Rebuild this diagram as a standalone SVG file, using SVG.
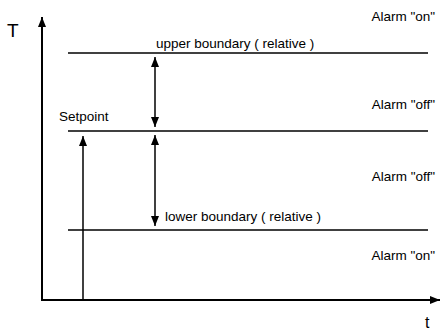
<svg xmlns="http://www.w3.org/2000/svg" width="440" height="332" viewBox="0 0 440 332">
  <style>
    .ln { stroke: #000; stroke-width: 1.5; fill: none; }
    .ax { stroke: #000; stroke-width: 2; fill: none; }
    text { font-family: "Liberation Sans", Arial, sans-serif; font-size: 13.5px; fill: #000; }
    .big { font-size: 19px; }
    .end { text-anchor: end; }
  </style>
  <defs>
    <marker id="ah" viewBox="0 0 10 10" refX="10" refY="5" markerWidth="10" markerHeight="10" markerUnits="userSpaceOnUse" orient="auto-start-reverse">
      <path d="M0,1 L10,5 L0,9 Z" fill="#000"/>
    </marker>
  </defs>

  <!-- axes -->
  <g id="axes">
    <line class="ax" x1="42" y1="300" x2="42" y2="17" marker-end="url(#ah)"/>
    <line class="ax" x1="41" y1="300" x2="440" y2="300" marker-end="url(#ah)"/>
    <text class="big" x="7" y="37">T</text>
    <text x="425" y="328" style="font-size:16px">t</text>
  </g>

  <!-- boundary levels -->
  <g id="upper-boundary">
    <line class="ln" x1="68" y1="53" x2="428" y2="53"/>
    <text x="156" y="48">upper boundary ( relative )</text>
  </g>
  <g id="setpoint">
    <line class="ln" x1="68" y1="131" x2="428" y2="131"/>
    <text x="59" y="121">Setpoint</text>
  </g>
  <g id="lower-boundary">
    <line class="ln" x1="68" y1="230" x2="428" y2="230"/>
    <text x="165" y="221">lower boundary ( relative )</text>
  </g>

  <!-- alarm zones -->
  <g id="zones">
    <text class="end" x="435" y="21">Alarm "on"</text>
    <text class="end" x="435" y="109">Alarm "off"</text>
    <text class="end" x="435" y="181">Alarm "off"</text>
    <text class="end" x="435" y="260">Alarm "on"</text>
  </g>

  <!-- connectors -->
  <g id="connectors">
    <line class="ln" x1="83" y1="300" x2="83" y2="136" marker-end="url(#ah)"/>
    <line class="ln" x1="155" y1="57" x2="155" y2="127" marker-start="url(#ah)" marker-end="url(#ah)"/>
    <line class="ln" x1="155" y1="135" x2="155" y2="226" marker-start="url(#ah)" marker-end="url(#ah)"/>
  </g>
</svg>
